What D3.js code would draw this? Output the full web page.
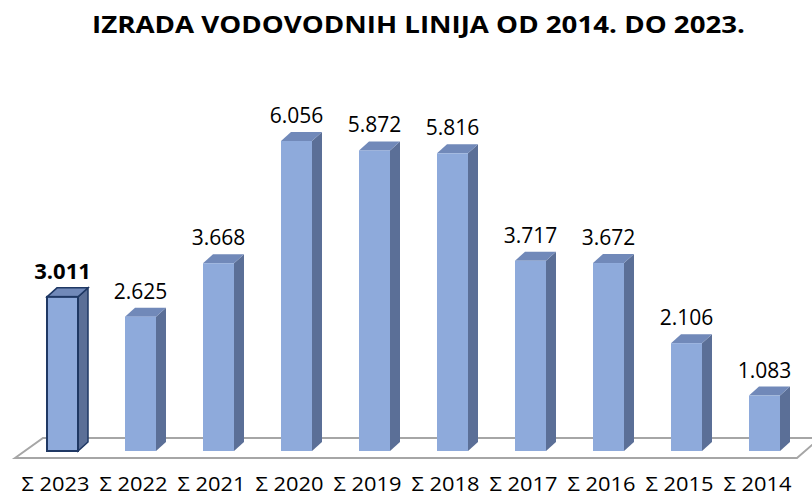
<!DOCTYPE html>
<html><head><meta charset="utf-8">
<script src="https://cdn.jsdelivr.net/npm/d3@7"></script>
<style>body{margin:0;background:#fff}svg{display:block}</style>
</head><body>
<svg id="chart" width="812" height="499"></svg>
<script>
const categories = ["Σ 2023","Σ 2022","Σ 2021","Σ 2020","Σ 2019","Σ 2018","Σ 2017","Σ 2016","Σ 2015","Σ 2014"];
const values = [3.011, 2.625, 3.668, 6.056, 5.872, 5.816, 3.717, 3.672, 2.106, 1.083];
const valueLabels = ["3.011","2.625","3.668","6.056","5.872","5.816","3.717","3.672","2.106","1.083"];
const title = "IZRADA VODOVODNIH LINIJA OD 2014. DO 2023.";

const svg = d3.select("#chart");
const x = d3.scaleBand().domain(categories).range([47, 780]).paddingInner(47/78).paddingOuter(0);
const y = d3.scaleLinear().domain([0, 6.056]).range([451, 141]);
const bw = x.bandwidth();
const dx = 10, dy = -9;
const font = "'Open Sans', 'Liberation Sans', sans-serif";

svg.append("text").attr("x", 418.5).attr("y", 33).attr("text-anchor","middle")
  .attr("font-family", font).attr("font-weight","bold")
  .attr("font-size", 24).attr("textLength", 653).attr("lengthAdjust","spacingAndGlyphs")
  .attr("fill","#000").text(title);

// floor
svg.append("path")
  .attr("d", "M15,458 L43,438 L820,438 L797,458 Z")
  .attr("fill","#fff").attr("stroke","#a6a6a6").attr("stroke-width",2);

const g = svg.append("g");
categories.forEach((c, i) => {
  const x0 = x(c), y0 = y(values[i]), yb = y(0);
  const hl = i === 0;
  const bg = g.append("g");
  bg.append("path").attr("d", `M${x0+bw},${yb} L${x0+bw},${y0} L${x0+bw+dx},${y0+dy} L${x0+bw+dx},${yb+dy} Z`)
    .attr("fill","#5b6f97").attr("stroke", hl ? "#1f3864" : "none").attr("stroke-width", hl ? 1.5 : 0);
  bg.append("path").attr("d", `M${x0},${y0} L${x0+dx},${y0+dy} L${x0+bw+dx},${y0+dy} L${x0+bw},${y0} Z`)
    .attr("fill","#7189b9").attr("stroke", hl ? "#1f3864" : "none").attr("stroke-width", hl ? 1.5 : 0);
  bg.append("rect").attr("x", x0).attr("y", y0).attr("width", bw).attr("height", yb - y0)
    .attr("fill","#8eaadb").attr("stroke", hl ? "#1f3864" : "none").attr("stroke-width", hl ? 2 : 0);
  g.append("text").attr("x", x0 + bw/2).attr("y", y0 - 18).attr("text-anchor","middle")
    .attr("font-family", font).attr("font-size", hl ? 22 : 21)
    .attr("font-weight", hl ? "bold" : "normal").attr("fill","#000").text(valueLabels[i]);
  g.append("text").attr("x", x0 + bw/2 - 7).attr("y", 491).attr("text-anchor","middle")
    .attr("font-family", font).attr("font-size", 20)
    .attr("textLength", 68).attr("lengthAdjust","spacingAndGlyphs")
    .attr("fill","#000").text(c);
});
</script>
</body></html>
